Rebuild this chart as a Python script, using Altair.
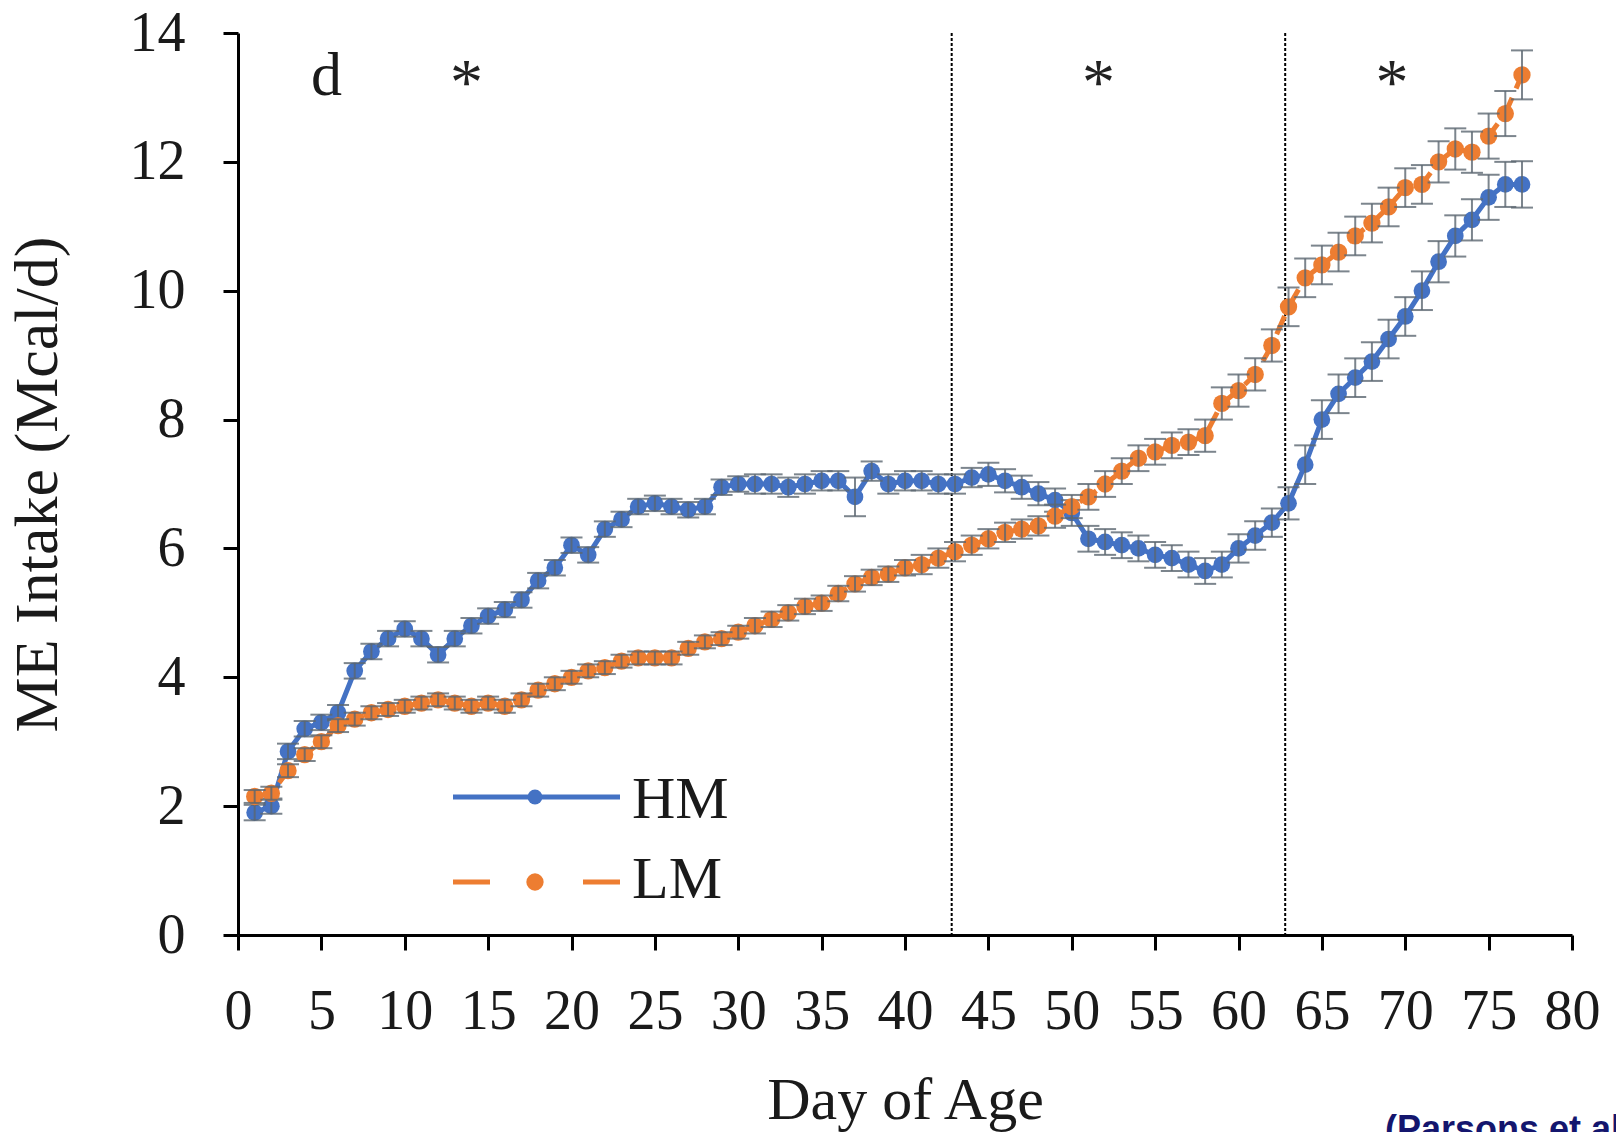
import altair as alt
import pandas as pd

days = list(range(1, 78))

hm = [1.9, 2.0, 2.85, 3.2, 3.3, 3.45, 4.1, 4.4, 4.6, 4.75,
      4.6, 4.35, 4.6, 4.8, 4.95, 5.05, 5.2, 5.5, 5.7, 6.05,
      5.9, 6.3, 6.45, 6.65, 6.7, 6.65, 6.6, 6.65, 6.95, 7.0,
      7.0, 7.0, 6.95, 7.0, 7.05, 7.05, 6.8, 7.2, 7.0, 7.05,
      7.05, 7.0, 7.0, 7.1, 7.15, 7.05, 6.95, 6.85, 6.75, 6.55,
      6.15, 6.1, 6.05, 6.0, 5.9, 5.85, 5.75, 5.65, 5.75, 6.0,
      6.2, 6.4, 6.7, 7.3, 8.0, 8.4, 8.65, 8.9, 9.25, 9.6,
      10.0, 10.45, 10.85, 11.1, 11.45, 11.65, 11.65]

lm = [2.15, 2.2, 2.55, 2.8, 3.0, 3.25, 3.35, 3.45, 3.5, 3.55,
      3.6, 3.65, 3.6, 3.55, 3.6, 3.55, 3.65, 3.8, 3.9, 4.0,
      4.1, 4.15, 4.25, 4.3, 4.3, 4.3, 4.45, 4.55, 4.6, 4.7,
      4.8, 4.9, 5.0, 5.1, 5.15, 5.3, 5.45, 5.55, 5.6, 5.7,
      5.75, 5.85, 5.95, 6.05, 6.15, 6.25, 6.3, 6.35, 6.5, 6.65,
      6.8, 7.0, 7.2, 7.4, 7.5, 7.6, 7.65, 7.75, 8.25, 8.45,
      8.7, 9.15, 9.75, 10.2, 10.4, 10.6, 10.85, 11.05, 11.3, 11.6,
      11.65, 12.0, 12.2, 12.15, 12.4, 12.75, 13.35]

hm_se = [0.12, 0.12, 0.12, 0.12, 0.12, 0.12, 0.12, 0.12, 0.12, 0.12,
         0.12, 0.12, 0.12, 0.12, 0.12, 0.12, 0.12, 0.12, 0.12, 0.12,
         0.12, 0.12, 0.12, 0.12, 0.12, 0.12, 0.12, 0.12, 0.12, 0.12,
         0.15, 0.15, 0.15, 0.15, 0.15, 0.15, 0.3, 0.15, 0.15, 0.15,
         0.15, 0.15, 0.15, 0.15, 0.18, 0.18, 0.18, 0.18, 0.18, 0.2,
         0.2, 0.2, 0.2, 0.2, 0.2, 0.2, 0.2, 0.2, 0.2, 0.22,
         0.22, 0.22, 0.25, 0.3, 0.3, 0.3, 0.3, 0.3, 0.3, 0.3,
         0.3, 0.32, 0.32, 0.32, 0.35, 0.35, 0.36]

lm_se = [0.1, 0.1, 0.1, 0.1, 0.1, 0.1, 0.1, 0.1, 0.1, 0.1,
         0.1, 0.1, 0.1, 0.1, 0.1, 0.1, 0.1, 0.1, 0.1, 0.1,
         0.1, 0.1, 0.1, 0.1, 0.1, 0.1, 0.1, 0.1, 0.1, 0.1,
         0.12, 0.12, 0.12, 0.12, 0.12, 0.12, 0.12, 0.12, 0.12, 0.12,
         0.15, 0.15, 0.15, 0.15, 0.15, 0.15, 0.15, 0.15, 0.18, 0.18,
         0.2, 0.2, 0.2, 0.2, 0.2, 0.2, 0.2, 0.25, 0.25, 0.25,
         0.25, 0.25, 0.3, 0.3, 0.3, 0.3, 0.3, 0.3, 0.3, 0.3,
         0.3, 0.32, 0.32, 0.32, 0.35, 0.35, 0.38]

phase_lines = [42.8, 62.8]
star_days = [13.7, 51.6, 69.2]
panel_letter = "d"
x_ticks = list(range(0, 81, 5))
y_ticks = list(range(0, 15, 2))

BLUE = "#4472C4"
ORANGE = "#ED7D31"
ERR = "#5b6770"
FONT = "Liberation Serif"

rows = []
for d, v, s in zip(days, hm, hm_se):
    rows.append({"day": d, "val": v, "lo": v - s, "hi": v + s, "grp": "HM"})
for d, v, s in zip(days, lm, lm_se):
    rows.append({"day": d, "val": v, "lo": v - s, "hi": v + s, "grp": "LM"})
df = pd.DataFrame(rows)
df_hm = df[df.grp == "HM"]
df_lm = df[df.grp == "LM"]

xs = alt.Scale(domain=[0, 80], nice=False)
ys = alt.Scale(domain=[0, 14], nice=False)

x_axis = alt.Axis(values=x_ticks, format="d", title="Day of Age", grid=False,
                  domainColor="black", domainWidth=3, tickColor="black", tickWidth=3,
                  tickSize=15, labelFont=FONT, labelFontSize=56, labelColor="#1a1a1a",
                  labelPadding=34, labelFlush=False, labelOverlap=False,
                  titleFont=FONT, titleFontSize=60, titleFontWeight="normal", titleColor="#1a1a1a",
                  titleBaseline="alphabetic", titleY=183)
y_axis = alt.Axis(values=y_ticks, format="d", title="ME Intake (Mcal/d)", grid=False,
                  domainColor="black", domainWidth=3, tickColor="black", tickWidth=3,
                  tickSize=15, labelFont=FONT, labelFontSize=56, labelColor="#1a1a1a",
                  labelPadding=38, labelFlush=False, labelOverlap=False,
                  titleFont=FONT, titleFontSize=62, titleFontWeight="normal", titleColor="#1a1a1a",
                  titleBaseline="alphabetic", titleX=-182, titleY=451, titleAngle=270)

X = alt.X("day:Q", scale=xs, axis=x_axis)
Y = alt.Y("val:Q", scale=ys, axis=y_axis)

def series(data, color, size, dash=None):
    line_kwargs = dict(color=color, strokeWidth=5)
    if dash:
        line_kwargs["strokeDash"] = dash
    line = alt.Chart(data).mark_line(**line_kwargs).encode(x=X, y=Y)
    pts = alt.Chart(data).mark_circle(color=color, size=size, opacity=1).encode(x="day:Q", y="val:Q")
    bars = alt.Chart(data).mark_rule(color=ERR, strokeWidth=2, opacity=0.8).encode(
        x="day:Q", y="lo:Q", y2="hi:Q")
    cap_hi = alt.Chart(data).mark_tick(color=ERR, orient="horizontal", size=22, thickness=2, opacity=0.8).encode(
        x="day:Q", y="hi:Q")
    cap_lo = alt.Chart(data).mark_tick(color=ERR, orient="horizontal", size=22, thickness=2, opacity=0.8).encode(
        x="day:Q", y="lo:Q")
    return [line, pts, bars, cap_hi, cap_lo]

vlines = alt.Chart(pd.DataFrame({"day": phase_lines})).mark_rule(
    color="black", strokeWidth=2, strokeDash=[3, 2]).encode(
    x="day:Q", y=alt.value(0), y2=alt.value(902))

stars = alt.Chart(pd.DataFrame({"day": star_days, "val": [12.9] * len(star_days)})).mark_text(
    text="*", font=FONT, fontSize=66, color="#222", baseline="alphabetic", align="center").encode(
    x="day:Q", y="val:Q")

letter = alt.Chart(pd.DataFrame({"day": [5.3], "val": [13.04], "t": [panel_letter]})).mark_text(
    font=FONT, fontSize=62, color="#1a1a1a", baseline="alphabetic", align="center").encode(
    x="day:Q", y="val:Q", text="t:N")

# manual legend (pixel positions inside plot area)
leg_hm_line = alt.Chart(pd.DataFrame({"k": [0]})).mark_rule(color=BLUE, strokeWidth=5).encode(
    x=alt.value(215), x2=alt.value(382), y=alt.value(764))
leg_hm_pt = alt.Chart(pd.DataFrame({"k": [0]})).mark_circle(color=BLUE, size=220, opacity=1).encode(
    x=alt.value(297), y=alt.value(764))
leg_lm_d1 = alt.Chart(pd.DataFrame({"k": [0]})).mark_rule(color=ORANGE, strokeWidth=5).encode(
    x=alt.value(215), x2=alt.value(252), y=alt.value(849))
leg_lm_d2 = alt.Chart(pd.DataFrame({"k": [0]})).mark_rule(color=ORANGE, strokeWidth=5).encode(
    x=alt.value(345), x2=alt.value(382), y=alt.value(849))
leg_lm_pt = alt.Chart(pd.DataFrame({"k": [0]})).mark_circle(color=ORANGE, size=300, opacity=1).encode(
    x=alt.value(297), y=alt.value(849))
leg_text = alt.Chart(pd.DataFrame({"t": ["HM", "LM"], "py": [785, 865]})).mark_text(
    font=FONT, fontSize=60, color="#1a1a1a", baseline="alphabetic", align="left").encode(
    x=alt.value(394), y=alt.Y("py:Q", scale=None), text="t:N")

source = alt.Chart(pd.DataFrame({"t": ["(Parsons et al., 2020)"]})).mark_text(
    font="Liberation Sans", fontSize=36, fontWeight="bold", color="#14166e",
    baseline="alphabetic", align="left").encode(
    x=alt.value(1147), y=alt.value(1108), text="t:N")

layers = [vlines] + series(df_hm, BLUE, 280) + series(df_lm, ORANGE, 300, dash=[20, 10]) + [
    stars, letter, leg_hm_line, leg_hm_pt, leg_lm_d1, leg_lm_d2, leg_lm_pt, leg_text, source]

chart = alt.layer(*layers).properties(
    width=1334, height=902,
    autosize=alt.AutoSizeParams(type="none"),
    padding={"left": 238, "top": 33, "right": 44, "bottom": 197},
    background="white",
).configure_view(stroke=None)

chart.save("out.html", embed_options={"renderer": "svg", "actions": False})
